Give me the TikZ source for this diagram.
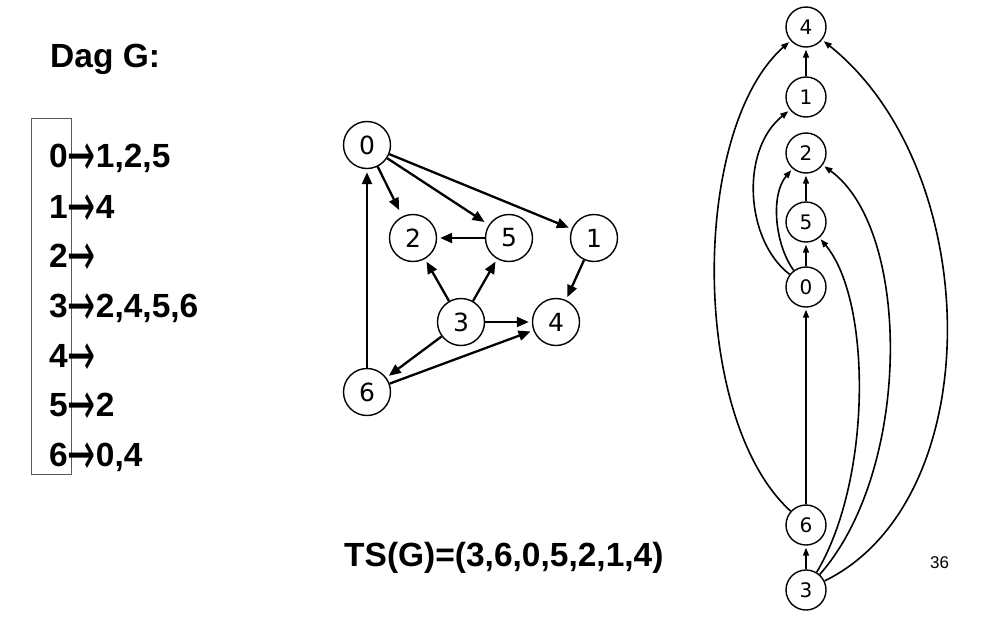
\documentclass[tikz,border=0pt]{standalone}
\usepackage{fontspec}
\setmainfont{Liberation Sans}
\newfontfamily\arrowfont{DejaVu Sans}
\newfontfamily\nodefont{DejaVu Sans}
\usetikzlibrary{arrows.meta}
\newcommand{\bigarrow}{\smash{\raisebox{-8.5pt}{\arrowfont\mdseries\scalebox{1}[1.8]{→}}}}
\begin{document}
\begin{tikzpicture}[x=1pt,y=-1pt,
  big/.style={font=\fontsize{33.5}{40}\selectfont\bfseries, inner sep=0pt, anchor=base west},
  mv/.style={draw, circle, line width=1.4pt, minimum size=47pt, inner sep=0pt, font=\nodefont\fontsize{25}{28}\selectfont},
  rv/.style={draw, circle, line width=1.4pt, minimum size=40pt, inner sep=0pt, font=\nodefont\fontsize{20}{22}\selectfont},
  me/.style={line width=2.3pt, -{Triangle[length=12pt,width=10pt]}, shorten >=3pt},
  re/.style={line width=1.6pt, -{Triangle[length=8pt,width=6pt]}, shorten >=2pt},
]
\useasboundingbox (0,0) rectangle (1005,619);

% left: adjacency list
\node[big] (title) at (50,67) {Dag G:};
\draw[gray!70!black, line width=0.9pt] (31,118) rectangle (71,474);
\node[big] (l0) at (49,167) {0\bigarrow1,2,5};
\node[big] (l1) at (49,218) {1\bigarrow4};
\node[big] (l2) at (49,267) {2\bigarrow};
\node[big] (l3) at (49,317) {3\bigarrow2,4,5,6};
\node[big] (l4) at (49,367) {4\bigarrow};
\node[big] (l5) at (49,416) {5\bigarrow2};
\node[big] (l6) at (49,466) {6\bigarrow0,4};

\node[big] (ts) at (344,566) {TS(G)=(3,6,0,5,2,1,4)};
\node[font=\fontsize{17}{20}\selectfont, inner sep=0pt, anchor=base west] (pg) at (930,568) {36};

% middle graph
\node[mv] (m0) at (367,145) {0};
\node[mv] (m2) at (413,238) {2};
\node[mv] (m5) at (509,238) {5};
\node[mv] (m1) at (594,238) {1};
\node[mv] (m3) at (461,322) {3};
\node[mv] (m4) at (556,322) {4};
\node[mv] (m6) at (367,392) {6};
\draw[me, shorten >=7pt] (m0) -- (m2);
\draw[me, shorten >=5pt] (m0) -- (m5);
\draw[me] (m0) -- (m1);
\draw[me] (m5) -- (m2);
\draw[me] (m3) -- (m2);
\draw[me] (m3) -- (m5);
\draw[me] (m3) -- (m4);
\draw[me] (m3) -- (m6);
\draw[me] (m1) -- (m4);
\draw[me] (m6) -- (m4);
\draw[me] (m6) -- (m0);

% right graph (topological order)
\node[rv] (r4) at (806,27) {4};
\node[rv] (r1) at (806,97) {1};
\node[rv] (r2) at (806,153) {2};
\node[rv] (r5) at (806,222) {5};
\node[rv] (r0) at (806,287) {0};
\node[rv] (r6) at (806,525) {6};
\node[rv] (r3) at (806,590) {3};
\draw[re] (r1) -- (r4);
\draw[re] (r5) -- (r2);
\draw[re] (r0) -- (r5);
\draw[re] (r6) -- (r0);
\draw[re] (r3) -- (r6);
\draw[re] (r0) .. controls (745,240) and (740,150) .. (r1);
\draw[re] (r0) .. controls (775,245) and (770,195) .. (r2);
\draw[re] (r6) .. controls (690,420) and (690,130) .. (r4);
\draw[re] (r3) .. controls (872,480) and (872,300) .. (r5);
\draw[re] (r3) .. controls (912,470) and (912,230) .. (r2);
\draw[re] (r3) .. controls (990,500) and (985,170) .. (r4);
\end{tikzpicture}
\end{document}
